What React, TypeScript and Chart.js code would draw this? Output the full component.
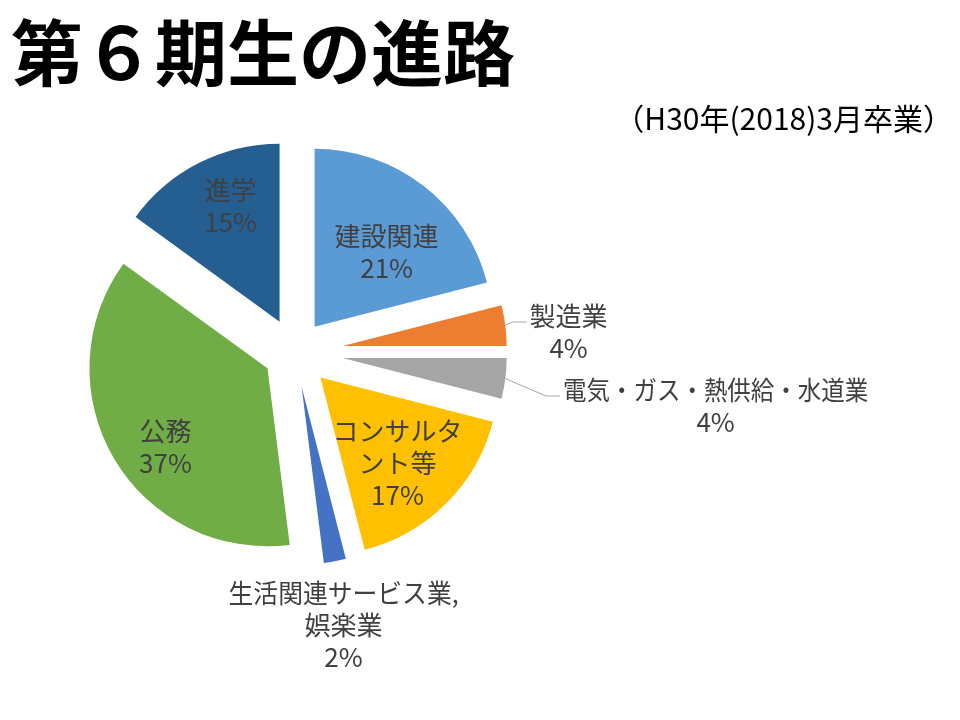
import React, { useEffect, useRef } from "react";
import { Chart, registerables } from "chart.js";

Chart.register(...registerables);

const titleText = "第６期生の進路";
const subtitleText = "（H30年(2018)3月卒業）";

const categories = [
  "建設関連",
  "製造業",
  "電気・ガス・熱供給・水道業",
  "コンサルタント等",
  "生活関連サービス業,娯楽業",
  "公務",
  "進学",
];
const shares = [21, 4, 4, 17, 2, 37, 15];
const colors = ["#5B9BD5", "#ED7D31", "#A5A5A5", "#FFC000", "#4472C4", "#70AD47", "#255E91"];

// label text split into lines as in the reference
const labelLines = [
  ["建設関連"],
  ["製造業"],
  ["電気・ガス・熱供給・水道業"],
  ["コンサルタ", "ント等"],
  ["生活関連サービス業,", "娯楽業"],
  ["公務"],
  ["進学"],
];

// styling: explosion distance, radius per slice, label offsets from slice apex
const explodeDistance = [32, 48, 48, 36, 35, 32, 34];
const sliceRadius = [178, 164, 164, 178, 178, 178, 178];
const labelOffset = [
  [72, -75],
  [226, -14],
  [373, 48],
  [77, 86],
  [42, 239],
  [-102, 79],
  [-49, -116],
];
const labelMaxWidth = [0, 0, 305, 0, 230, 0, 0];
const hasLeader = [false, true, true, false, false, false, false];

const FONT = "'Noto Sans CJK JP', 'Noto Sans CJK SC', sans-serif";
const LABEL_SIZE = 26;
const LINE_H = 32;

const explodePlugin = {
  id: "explodeSlices",
  afterDatasetsUpdate(chart: any) {
    const meta = chart.getDatasetMeta(0);
    const ca = chart.chartArea;
    const cx = (ca.left + ca.right) / 2;
    const cy = (ca.top + ca.bottom) / 2;
    meta.data.forEach((arc: any, i: number) => {
      const mid = (arc.startAngle + arc.endAngle) / 2;
      arc.x = cx + Math.cos(mid) * explodeDistance[i];
      arc.y = cy + Math.sin(mid) * explodeDistance[i];
      arc.outerRadius = sliceRadius[i];
    });
  },
};

const labelPlugin = {
  id: "sliceLabels",
  afterDatasetsDraw(chart: any) {
    const ctx = chart.ctx as CanvasRenderingContext2D;
    const meta = chart.getDatasetMeta(0);
    ctx.save();
    ctx.font = `${LABEL_SIZE}px ${FONT}`;
    ctx.fillStyle = "#404040";
    ctx.textAlign = "center";
    ctx.textBaseline = "middle";
    meta.data.forEach((arc: any, i: number) => {
      const lines = [...labelLines[i], `${shares[i]}%`];
      const bx = arc.x + labelOffset[i][0];
      const by = arc.y + labelOffset[i][1];
      const n = lines.length;
      const firstY = by - ((n - 1) / 2) * LINE_H;
      lines.forEach((t, k) => {
        const y = firstY + k * LINE_H;
        if (k === 0 && labelMaxWidth[i]) {
          ctx.fillText(t, bx, y, labelMaxWidth[i]);
        } else {
          ctx.fillText(t, bx, y);
        }
      });
      if (hasLeader[i]) {
        const mid = (arc.startAngle + arc.endAngle) / 2;
        const sx = arc.x + Math.cos(mid) * arc.outerRadius;
        const sy = arc.y + Math.sin(mid) * arc.outerRadius;
        let w1 = ctx.measureText(lines[0]).width;
        if (labelMaxWidth[i]) w1 = Math.min(w1, labelMaxWidth[i]);
        const ex = bx - w1 / 2 - 3;
        const ly = firstY + 6;
        ctx.beginPath();
        ctx.strokeStyle = "#A6A6A6";
        ctx.lineWidth = 1;
        ctx.moveTo(sx, sy);
        ctx.lineTo(ex - 14, ly);
        ctx.lineTo(ex, ly);
        ctx.stroke();
      }
    });
    ctx.restore();
  },
  afterDraw(chart: any) {
    const ctx = chart.ctx as CanvasRenderingContext2D;
    ctx.save();
    ctx.fillStyle = "#000000";
    ctx.textBaseline = "middle";
    ctx.textAlign = "left";
    ctx.font = `bold 72px ${FONT}`;
    ctx.fillText(titleText, 11, 53);
    ctx.font = `30px ${FONT}`;
    ctx.textAlign = "right";
    ctx.fillText(subtitleText, 953, 119);
    ctx.restore();
  },
};

export default function App() {
  const ref = useRef<HTMLCanvasElement | null>(null);
  useEffect(() => {
    if (!ref.current) return;
    const chart = new Chart(ref.current, {
      type: "pie",
      data: {
        labels: categories,
        datasets: [
          {
            data: shares,
            backgroundColor: colors,
            borderWidth: 0,
            radius: 178,
          } as any,
        ],
      },
      options: {
        responsive: false,
        animation: false,
        devicePixelRatio: 1,
        rotation: 0,
        layout: { padding: { left: 0, top: 0, right: 370, bottom: 16 } },
        plugins: {
          legend: { display: false },
          tooltip: { enabled: false },
          title: { display: false },
        },
        events: [],
      } as any,
      plugins: [explodePlugin, labelPlugin],
    });
    return () => chart.destroy();
  }, []);
  return (
    <div style={{ position: "absolute", left: 0, top: 0, width: 960, height: 720, background: "#fff" }}>
      <canvas ref={ref} width={960} height={720} style={{ width: 960, height: 720, display: "block" }} />
    </div>
  );
}
